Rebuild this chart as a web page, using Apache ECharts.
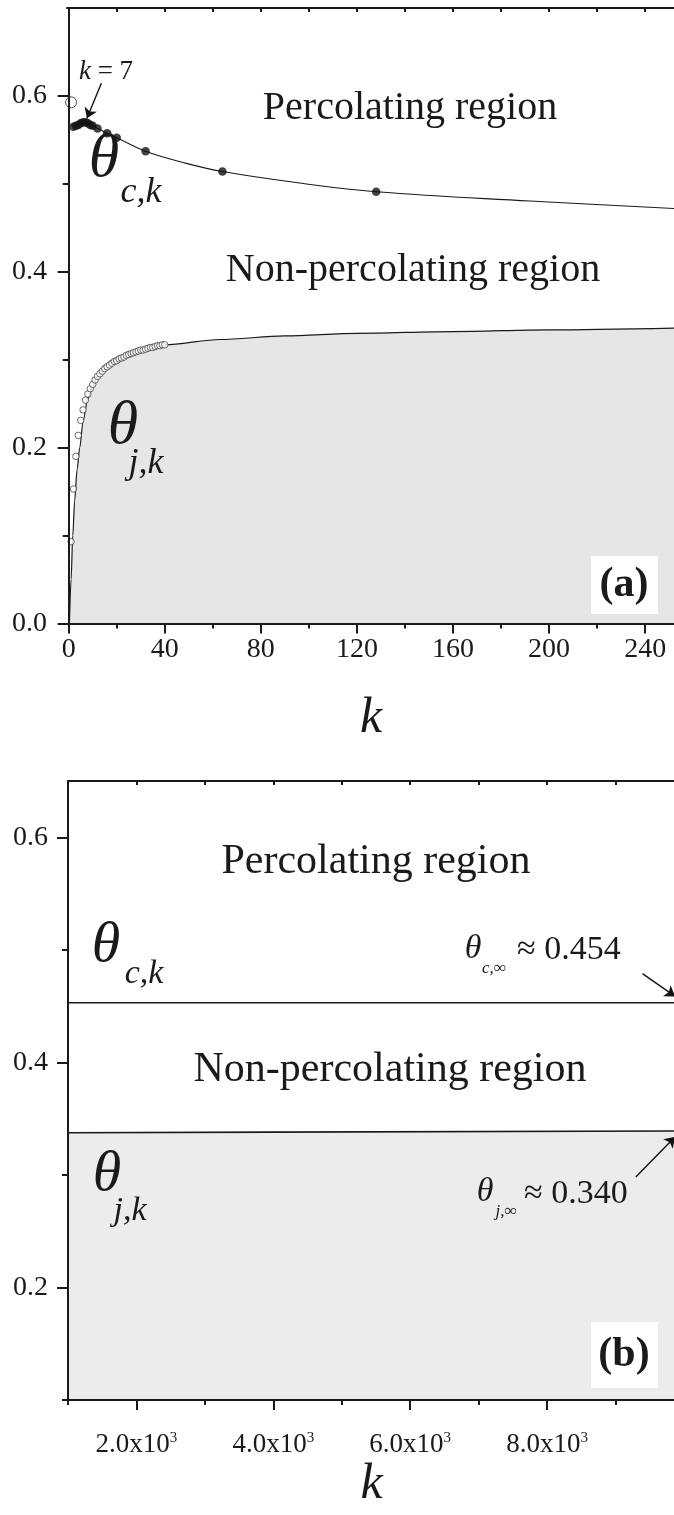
<!DOCTYPE html>
<html>
<head>
<meta charset="utf-8">
<script src="https://cdn.jsdelivr.net/npm/echarts@6/dist/echarts.min.js"></script>
<style>
  html, body { margin: 0; padding: 0; background: #fff; }
  #chart { width: 674px; height: 1515px; }
</style>
</head>
<body>
<div id="chart"></div>
<script>
// ---- panel (a) ----
// percolation threshold theta_c,k (filled dots)
const percK = [2, 3, 4, 5, 6, 7, 8, 9, 10, 12, 16, 20, 32, 64, 128]
const percVal = [0.565, 0.566, 0.567, 0.569, 0.570, 0.570, 0.569, 0.567, 0.566, 0.563, 0.5575, 0.5525, 0.537, 0.514, 0.491]
// k = 1 (open circle)
const percK1 = [1]
const percVal1 = [0.5927]
// fitted line through the thresholds
const percFitK = [10, 12, 16, 20, 32, 48, 64, 96, 128, 192, 252.4]
const percFitVal = [0.566, 0.563, 0.5575, 0.5525, 0.537, 0.524, 0.514, 0.501, 0.491, 0.4805, 0.472]
// jamming coverage theta_j,k (open circles)
const jamK = [1, 2, 3, 4, 5, 6, 7, 8, 9, 10, 11, 12, 13, 14, 15, 16, 17, 18, 19, 20,
  21, 22, 23, 24, 25, 26, 27, 28, 29, 30, 31, 32, 33, 34, 35, 36, 37, 38, 39, 40]
const jamVal = [0.093, 0.153, 0.190, 0.214, 0.231, 0.243, 0.254, 0.261, 0.267, 0.272,
  0.277, 0.281, 0.284, 0.287, 0.290, 0.292, 0.294, 0.296, 0.298, 0.299,
  0.301, 0.302, 0.303, 0.305, 0.306, 0.307, 0.308, 0.309, 0.310, 0.311,
  0.311, 0.312, 0.313, 0.314, 0.314, 0.315, 0.316, 0.316, 0.317, 0.317]
// fitted jamming curve
const jamFitK = [0.3, 1.0, 1.7, 2.5, 3.5, 4.6, 6, 7.9, 10, 12, 14.9, 20, 25, 30, 40, 63, 90, 120, 160, 200, 252.4]
const jamFitVal = [0, 0.05, 0.1, 0.14, 0.175, 0.2, 0.23, 0.255, 0.27, 0.281, 0.293, 0.302, 0.307, 0.311, 0.317, 0.323, 0.327, 0.330, 0.332, 0.334, 0.336]

// ---- panel (b) ----
const bigK = [1000, 4000, 9870]
const bigPercVal = [0.453, 0.453, 0.453]
const bigJamVal = [0.3375, 0.338, 0.339]

// ticks
const aXTicks = [0, 40, 80, 120, 160, 200, 240]
const aXMinor = [20, 60, 100, 140, 180, 220]
const aYTicks = [0, 0.2, 0.4, 0.6]
const aYMinor = [0.1, 0.3, 0.5]
const bXTicks = [2000, 4000, 6000, 8000]
const bXMinor = [1000, 3000, 5000, 7000, 9000]
const bYTicks = [0.2, 0.4, 0.6]
const bYMinor = [0.1, 0.3, 0.5]

const zip = (xs, ys) => xs.map((x, i) => [x, ys[i]])
const serif = "'Liberation Serif', 'Times New Roman', serif"
const ink = '#1a1a1a'

function mainX(grid, min, max, ticks, fmt, labelMargin, rich, nameGap) {
  return {
    type: 'value', gridIndex: grid, min: min, max: max, position: 'bottom', z: 5,
    axisLine: { show: true, lineStyle: { color: ink, width: 2 } },
    axisTick: { show: true, customValues: ticks, length: 10, lineStyle: { color: ink, width: 2 } },
    axisLabel: { show: true, customValues: ticks, formatter: fmt, margin: labelMargin, color: ink,
      fontFamily: serif, fontSize: 28, rich: rich },
    splitLine: { show: false },
    name: 'k', nameLocation: 'middle', nameGap: nameGap,
    nameTextStyle: { fontFamily: serif, fontStyle: 'italic', fontSize: 50, color: ink }
  }
}
function minorX(grid, min, max, ticks, pos, inside, len) {
  return {
    type: 'value', gridIndex: grid, min: min, max: max, position: pos, z: 5,
    axisLine: { show: pos === 'top', lineStyle: { color: ink, width: 2 } },
    axisTick: { show: true, inside: inside, customValues: ticks, length: len, lineStyle: { color: ink, width: 2 } },
    axisLabel: { show: false }, splitLine: { show: false }
  }
}
function mainY(grid, min, max, ticks) {
  return {
    type: 'value', gridIndex: grid, min: min, max: max, position: 'left', z: 5,
    axisLine: { show: true, lineStyle: { color: ink, width: 2 } },
    axisTick: { show: true, customValues: ticks, length: 11, lineStyle: { color: ink, width: 2 } },
    axisLabel: { show: true, customValues: ticks, formatter: v => v.toFixed(1), margin: 20, color: ink,
      fontFamily: serif, fontSize: 28 },
    splitLine: { show: false }
  }
}
function minorY(grid, min, max, ticks) {
  return {
    type: 'value', gridIndex: grid, min: min, max: max, position: 'left', z: 5,
    axisLine: { show: false },
    axisTick: { show: true, customValues: ticks, length: 6, lineStyle: { color: ink, width: 2 } },
    axisLabel: { show: false }, splitLine: { show: false }
  }
}

function arrow(from, to) {
  return [{ coord: from }, { coord: to }]
}

function txt(x, y, text, size) {
  return { type: 'text', x: x, y: y, z: 20,
    style: { text: text, font: size + 'px ' + serif, fill: ink, textAlign: 'center', textVerticalAlign: 'middle' } }
}
function itxt(x, y, text, size, align) {
  return { type: 'text', x: x, y: y, z: 20,
    style: { text: text, font: 'italic ' + size + 'px ' + serif, fill: ink,
      textAlign: align || 'center', textVerticalAlign: 'middle' } }
}

const chart = echarts.init(document.getElementById('chart'), null, { renderer: 'canvas' })
chart.setOption({
  animation: false,
  backgroundColor: '#fff',
  grid: [
    { left: 67, top: 8, right: -1, height: 615.5, outerBoundsMode: 'none' },
    { left: 68, top: 781, right: -1, height: 619, outerBoundsMode: 'none' }
  ],
  xAxis: [
    mainX(0, -0.7, 252.4, aXTicks, v => String(v), 12, null, 70),
    minorX(0, -0.7, 252.4, aXMinor, 'bottom', false, 5),
    minorX(0, -0.7, 252.4, aXTicks.concat(aXMinor), 'top', true, 4),
    mainX(1, 1000, 9870, bXTicks, v => '{m|' + (v / 1000).toFixed(1) + 'x10}{s|3}', 31,
      { m: { fontFamily: serif, fontSize: 27, color: ink }, s: { fontFamily: serif, fontSize: 15, color: ink, verticalAlign: 'top' } }, 60),
    minorX(1, 1000, 9870, bXMinor, 'bottom', false, 5),
    minorX(1, 1000, 9870, bXTicks.concat(bXMinor), 'top', true, 4)
  ],
  yAxis: [
    mainY(0, 0, 0.7, aYTicks),
    minorY(0, 0, 0.7, aYMinor),
    mainY(1, 0.1, 0.65, bYTicks),
    minorY(1, 0.1, 0.65, bYMinor)
  ],
  series: [
    {
      name: 'jamFit', type: 'line', xAxisIndex: 0, yAxisIndex: 0, data: zip(jamFitK, jamFitVal),
      showSymbol: false, smooth: 0.3, smoothMonotone: 'x', z: 2,
      lineStyle: { color: ink, width: 1.2 }, areaStyle: { color: '#e6e6e6', opacity: 1 }
    },
    {
      name: 'jamPts', type: 'scatter', xAxisIndex: 0, yAxisIndex: 0, data: zip(jamK, jamVal),
      symbol: 'circle', symbolSize: 6.5, z: 3,
      itemStyle: { color: '#fff', borderColor: '#333', borderWidth: 0.9 }
    },
    {
      name: 'percFit', type: 'line', xAxisIndex: 0, yAxisIndex: 0, data: zip(percFitK, percFitVal),
      showSymbol: false, smooth: 0.4, z: 2,
      lineStyle: { color: ink, width: 1.1 }
    },
    {
      name: 'percPts', type: 'scatter', xAxisIndex: 0, yAxisIndex: 0, data: zip(percK, percVal),
      symbol: 'circle', symbolSize: 8.5, z: 4, itemStyle: { color: '#111' },
      markLine: {
        silent: true, symbol: ['none', 'arrow'], symbolSize: 10, label: { show: false },
        lineStyle: { color: '#111', width: 1.4, type: 'solid' },
        data: [arrow([13.6, 0.6145], [7.6, 0.5745])]
      }
    },
    {
      name: 'percK1', type: 'scatter', xAxisIndex: 0, yAxisIndex: 0, data: zip(percK1, percVal1),
      symbol: 'circle', symbolSize: 11, z: 4,
      itemStyle: { color: '#fff', borderColor: '#222', borderWidth: 1 }
    },
    {
      name: 'bigJam', type: 'line', xAxisIndex: 3, yAxisIndex: 2, data: zip(bigK, bigJamVal),
      showSymbol: false, z: 2, lineStyle: { color: ink, width: 1.6 },
      areaStyle: { color: '#ebeceb', opacity: 1, origin: 'start' }
    },
    {
      name: 'bigPerc', type: 'line', xAxisIndex: 3, yAxisIndex: 2, data: zip(bigK, bigPercVal),
      showSymbol: false, z: 2, lineStyle: { color: ink, width: 1.6 },
      markLine: {
        silent: true, symbol: ['none', 'arrow'], symbolSize: 10, label: { show: false },
        lineStyle: { color: '#111', width: 1.4, type: 'solid' },
        data: [arrow([9395, 0.4788], [9870, 0.4586]), arrow([9297, 0.2981], [9870, 0.3338])]
      }
    }
  ],
  graphic: [
    // panel (a) labels
    txt(410, 108, 'Percolating region', 40),
    txt(413, 270, 'Non-percolating region', 40),
    itxt(104, 160, 'θ', 62),
    itxt(141, 193, 'c,k', 36),
    itxt(123, 427, 'θ', 62),
    itxt(146, 464, 'j,k', 36),
    { type: 'text', x: 106, y: 72, z: 20,
      style: { text: '{i|k} = 7', fill: ink, textAlign: 'center', textVerticalAlign: 'middle',
        font: '27px ' + serif,
        rich: { i: { fontFamily: serif, fontStyle: 'italic', fontSize: 27, fill: ink } } } },
    { type: 'rect', z: 19, shape: { x: 591, y: 556, width: 67, height: 58 }, style: { fill: '#fff' } },
    { type: 'text', x: 624, y: 585, z: 20,
      style: { text: '(a)', font: 'bold 42px ' + serif, fill: ink, textAlign: 'center', textVerticalAlign: 'middle' } },
    // panel (b) labels
    txt(376, 862, 'Percolating region', 42),
    txt(390, 1070, 'Non-percolating region', 42),
    itxt(106, 946, 'θ', 58),
    itxt(144, 974, 'c,k', 34),
    itxt(107, 1175, 'θ', 58),
    itxt(130, 1211, 'j,k', 34),
    itxt(473, 949, 'θ', 34),
    itxt(494, 969, 'c,∞', 17),
    { type: 'text', x: 517, y: 950, z: 20,
      style: { text: '≈ 0.454', font: '34px ' + serif, fill: ink, textAlign: 'left', textVerticalAlign: 'middle' } },
    itxt(485, 1192, 'θ', 34),
    itxt(506, 1212, 'j,∞', 17),
    { type: 'text', x: 524, y: 1194, z: 20,
      style: { text: '≈ 0.340', font: '34px ' + serif, fill: ink, textAlign: 'left', textVerticalAlign: 'middle' } },
    { type: 'rect', z: 19, shape: { x: 591, y: 1322, width: 67, height: 66 }, style: { fill: '#fff' } },
    { type: 'text', x: 624, y: 1355, z: 20,
      style: { text: '(b)', font: 'bold 42px ' + serif, fill: ink, textAlign: 'center', textVerticalAlign: 'middle' } }
  ]
})
</script>
</body>
</html>
